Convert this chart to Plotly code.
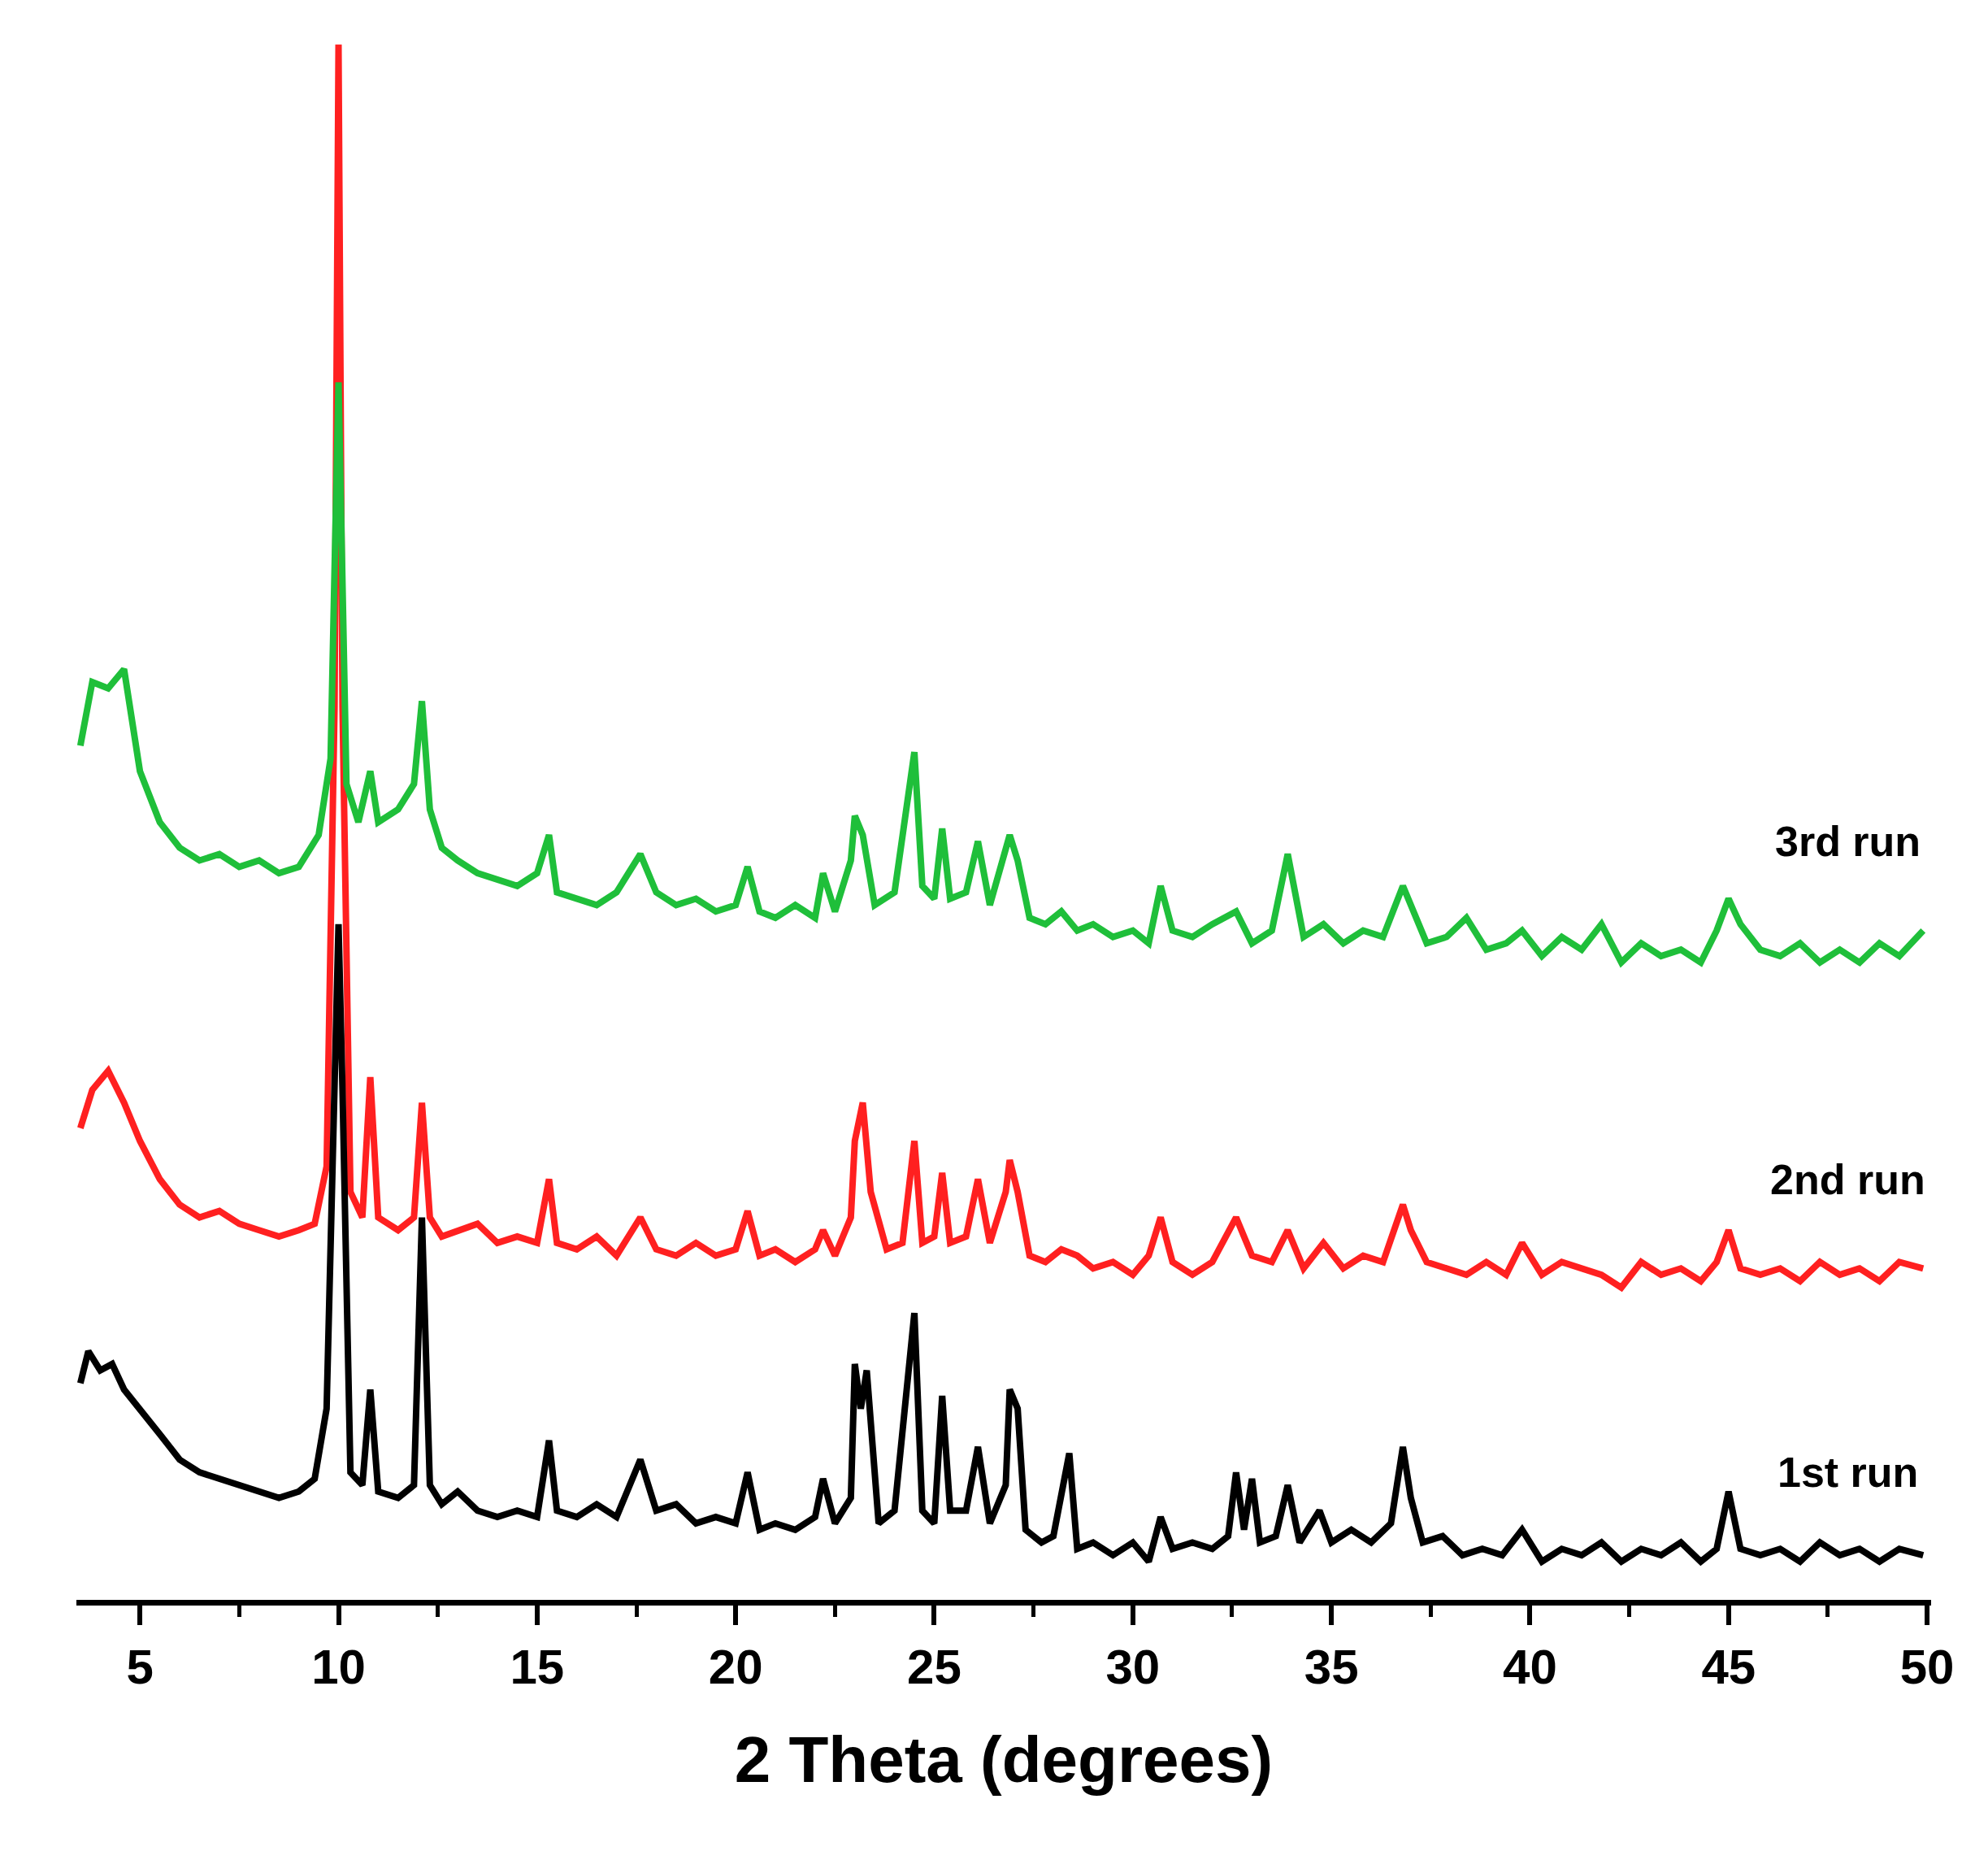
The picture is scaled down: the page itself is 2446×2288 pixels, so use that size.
import plotly.graph_objects as go

# XRD patterns (intensity in arbitrary offset units)
black_pts = [(3.5,170),(3.7,195),(4.0,180),(4.3,185),(4.6,165),(5.0,150),(5.5,130),(6.0,110),(6.5,100),(7.0,95),
             (7.5,90),(8.0,85),(8.5,80),(9.0,85),(9.4,95),(9.7,150),(9.9,400),(10.0,530),(10.1,400),(10.3,100),
             (10.6,90),(10.8,165),(11.0,85),(11.5,80),(11.9,90),(12.1,300),(12.3,90),(12.6,75),(13.0,85),(13.5,70),
             (14.0,65),(14.5,70),(15.0,65),(15.3,125),(15.5,70),(16.0,65),(16.5,75),(17.0,65),(17.6,110),(18.0,70),
             (18.5,75),(19.0,60),(19.5,65),(20.0,60),(20.3,100),(20.6,55),(21.0,60),(21.5,55),(22.0,65),(22.2,95),
             (22.5,60),(22.9,80),(23.0,185),(23.15,150),(23.3,180),(23.6,60),(24.0,70),(24.5,225),(24.7,70),(25.0,60),
             (25.2,160),(25.4,70),(25.8,70),(26.1,120),(26.4,60),(26.8,90),(26.9,165),(27.1,150),(27.3,55),(27.7,45),
             (28.0,50),(28.4,115),(28.6,40),(29.0,45),(29.5,35),(30.0,45),(30.4,30),(30.7,65),(31.0,40),(31.5,45),
             (32.0,40),(32.4,50),(32.6,100),(32.8,55),(33.0,95),(33.2,45),(33.6,50),(33.9,90),(34.2,45),(34.7,70),
             (35.0,45),(35.5,55),(36.0,45),(36.5,60),(36.8,120),(37.0,80),(37.3,45),(37.8,50),(38.3,35),(38.8,40),
             (39.3,35),(39.8,55),(40.3,30),(40.8,40),(41.3,35),(41.8,45),(42.3,30),(42.8,40),(43.3,35),(43.8,45),
             (44.3,30),(44.7,40),(45.0,85),(45.3,40),(45.8,35),(46.3,40),(46.8,30),(47.3,45),(47.8,35),(48.3,40),
             (48.8,30),(49.3,40),(49.9,35)]

red_pts = [(3.5,370),(3.8,400),(4.2,415),(4.6,390),(5.0,360),(5.5,330),(6.0,310),(6.5,300),(7.0,305),(7.5,295),
           (8.0,290),(8.5,285),(9.0,290),(9.4,295),(9.7,340),(9.9,700),(10.0,1220),(10.1,700),(10.3,320),(10.6,300),
           (10.8,410),(11.0,300),(11.5,290),(11.9,300),(12.1,390),(12.3,300),(12.6,285),(13.0,290),(13.5,295),(14.0,280),
           (14.5,285),(15.0,280),(15.3,330),(15.5,280),(16.0,275),(16.5,285),(17.0,270),(17.6,300),(18.0,275),(18.5,270),
           (19.0,280),(19.5,270),(20.0,275),(20.3,305),(20.6,270),(21.0,275),(21.5,265),(22.0,275),(22.2,290),(22.5,270),
           (22.9,300),(23.0,360),(23.2,390),(23.4,320),(23.8,275),(24.2,280),(24.5,360),(24.7,280),(25.0,285),(25.2,335),
           (25.4,280),(25.8,285),(26.1,330),(26.4,280),(26.8,320),(26.9,345),(27.1,320),(27.4,270),(27.8,265),(28.2,275),
           (28.6,270),(29.0,260),(29.5,265),(30.0,255),(30.4,270),(30.7,300),(31.0,265),(31.5,255),(32.0,265),(32.6,300),
           (33.0,270),(33.5,265),(33.9,290),(34.3,260),(34.8,280),(35.3,260),(35.8,270),(36.3,265),(36.8,310),(37.0,290),
           (37.4,265),(37.9,260),(38.4,255),(38.9,265),(39.4,255),(39.8,280),(40.3,255),(40.8,265),(41.3,260),(41.8,255),
           (42.3,245),(42.8,265),(43.3,255),(43.8,260),(44.3,250),(44.7,265),(45.0,290),(45.3,260),(45.8,255),(46.3,260),
           (46.8,250),(47.3,265),(47.8,255),(48.3,260),(48.8,250),(49.3,265),(49.9,260)]

green_pts = [(3.5,670),(3.8,720),(4.2,715),(4.6,730),(5.0,650),(5.5,610),(6.0,590),(6.5,580),(7.0,585),(7.5,575),
             (8.0,580),(8.5,570),(9.0,575),(9.5,600),(9.8,660),(10.0,955),(10.2,640),(10.5,610),(10.8,650),(11.0,610),
             (11.5,620),(11.9,640),(12.1,705),(12.3,620),(12.6,590),(13.0,580),(13.5,570),(14.0,565),(14.5,560),(15.0,570),
             (15.3,600),(15.5,555),(16.0,550),(16.5,545),(17.0,555),(17.6,585),(18.0,555),(18.5,545),(19.0,550),(19.5,540),
             (20.0,545),(20.3,575),(20.6,540),(21.0,535),(21.5,545),(22.0,535),(22.2,570),(22.5,540),(22.9,580),(23.0,615),
             (23.2,600),(23.5,545),(24.0,555),(24.5,665),(24.7,560),(25.0,550),(25.2,605),(25.4,550),(25.8,555),(26.1,595),
             (26.4,545),(26.8,590),(26.9,600),(27.1,580),(27.4,535),(27.8,530),(28.2,540),(28.6,525),(29.0,530),(29.5,520),
             (30.0,525),(30.4,515),(30.7,560),(31.0,525),(31.5,520),(32.0,530),(32.6,540),(33.0,515),(33.5,525),(33.9,585),
             (34.3,520),(34.8,530),(35.3,515),(35.8,525),(36.3,520),(36.8,560),(37.0,545),(37.4,515),(37.9,520),(38.4,535),
             (38.9,510),(39.4,515),(39.8,525),(40.3,505),(40.8,520),(41.3,510),(41.8,530),(42.3,500),(42.8,515),(43.3,505),
             (43.8,510),(44.3,500),(44.7,525),(45.0,550),(45.3,530),(45.8,510),(46.3,505),(46.8,515),(47.3,500),(47.8,510),
             (48.3,500),(48.8,515),(49.3,505),(49.9,525)]

run_labels = ['1st run', '2nd run', '3rd run']
label_y = [100, 330, 595]

fig = go.Figure()
for pts, color in [(red_pts, '#ff2020'), (green_pts, '#1fbf3a'), (black_pts, 'black')]:
    fig.add_trace(go.Scatter(x=[p[0] for p in pts], y=[p[1] for p in pts], mode='lines',
                             line=dict(color=color, width=8), showlegend=False))

for txt, yy in zip(run_labels, label_y):
    fig.add_annotation(x=48.0, y=yy, text=txt, showarrow=False,
                       font=dict(family='Liberation Sans', size=52, color='black', weight='bold'))

fig.update_layout(
    width=2446, height=2288, plot_bgcolor='white', paper_bgcolor='white',
    margin=dict(l=86, r=78, t=39, b=328),
    font=dict(family='Liberation Sans', color='black'),
)
fig.update_xaxes(range=[3.4, 50.1], showgrid=False, zeroline=False,
                 showline=True, linecolor='black', linewidth=7,
                 ticks='outside', tickvals=[5, 10, 15, 20, 25, 30, 35, 40, 45, 50],
                 ticklen=24, tickwidth=6, tickcolor='black',
                 minor=dict(ticks='outside', dtick=2.5, tick0=0, ticklen=14, tickwidth=5, tickcolor='black'),
                 tickfont=dict(size=60, weight='bold'),
                 title=dict(text='2 Theta (degrees)', font=dict(size=80, weight='bold'), standoff=55))
fig.update_yaxes(range=[0, 1225], visible=False)

fig.write_html('out.html')
